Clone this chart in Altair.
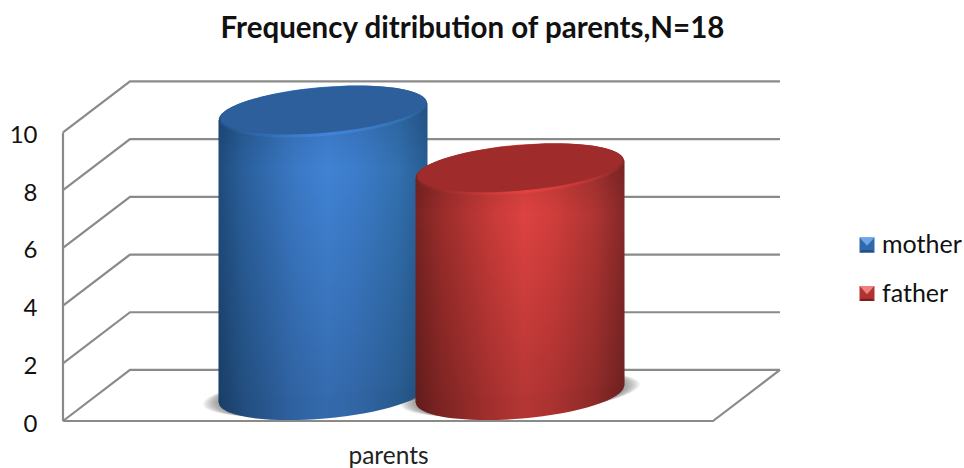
import math
import altair as alt
import pandas as pd

# Chart values
series = ["mother", "father"]
counts = [10, 8]
category = "parents"
y_ticks = [0, 2, 4, 6, 8, 10]

# Projection of the box: one x unit is one pixel, y is in count units
DEPTH_X = 67
DEPTH_Y = 1.77
FRONT_W = 650
Y_MAX = 11.75
TOP_LIFT = 0.73
BASE_LEVEL = 0.93
CENTRES = {"mother": 260, "father": 457}
ELL_A = 104.5
ELL_RATIO = 0.234
TILT = math.radians(-4.9)
TIP_RISE = 0.295  # height of the ellipse's side tips above or below its centre, in y units

PALETTE = {
    "mother": dict(
        side=["#1f4b7c", "#2a5f9b", "#3a78c4", "#4082d4", "#3c7cca", "#3270b0", "#275c92"],
        face="#2c5f9b", light="#6ea6ea", mid="#2f69aa", dark="#1f4e82",
    ),
    "father": dict(
        side=["#762322", "#982c2a", "#c63a38", "#dc4240", "#d03d3b", "#ad3432", "#842827"],
        face="#9f2c2a", light="#ee8080", mid="#b03331", dark="#7a2120",
    ),
}
STOPS = [0, 0.12, 0.36, 0.52, 0.66, 0.86, 1]


def ellipse_path(ax=1.0, ratio=ELL_RATIO, cx=0.0, cy=0.0, tilt=TILT):
    """Rotated ellipse as four cubic segments, in a symbol's unit box."""
    k = 0.5522847
    pts = [(ax, 0), (ax, k * ratio), (k * ax, ratio), (0, ratio), (-k * ax, ratio),
           (-ax, k * ratio), (-ax, 0), (-ax, -k * ratio), (-k * ax, -ratio), (0, -ratio),
           (k * ax, -ratio), (ax, -k * ratio), (ax, 0)]
    c, s = math.cos(tilt), math.sin(tilt)
    out = [(cx + x * c - y * s, cy + x * s + y * c) for x, y in pts]
    d = "M{:.4f},{:.4f}".format(*out[0])
    for i in range(1, 13, 3):
        d += "C" + " ".join("{:.4f},{:.4f}".format(*p) for p in out[i:i + 3])
    return d + "Z"


def shade(color, factor):
    r, g, b = (int(color[i:i + 2], 16) for i in (1, 3, 5))
    return "#{:02x}{:02x}{:02x}".format(*(min(255, int(v * factor)) for v in (r, g, b)))


def side_gradient(colors, factor=1.0):
    return alt.Gradient(
        gradient="linear", x1=0, x2=1, y1=0, y2=0,
        stops=[alt.GradientStop(offset=o, color=shade(c, factor)) for o, c in zip(STOPS, colors)],
    )


x_scale = alt.Scale(domain=[0, 717], nice=False, zero=False, padding=0)
y_scale = alt.Scale(domain=[0, Y_MAX], nice=False, zero=False)
x_axis = alt.Axis(values=[FRONT_W / 2], labelExpr=f"'{category}'", ticks=False, domain=False,
                  grid=False, labelFontSize=24.5, labelFont="Lato", labelColor="#222222",
                  labelPadding=23, title=None)
y_axis = alt.Axis(values=y_ticks, ticks=False, domain=False, grid=False, labelFontSize=24,
                  labelFont="Lato", labelColor="#111111", labelPadding=26, labelOffset=3, title=None)
X = alt.X("x:Q", scale=x_scale, axis=x_axis)


def Y(field):
    return alt.Y(f"{field}:Q", scale=y_scale, axis=y_axis)


LINE = dict(color="#8a8a8a", strokeWidth=2.2, strokeJoin="miter")

# Wall lines, one polyline per tick
wall = []
for v in y_ticks:
    wall += [
        dict(tick=v, step=0, x=0, y=v),
        dict(tick=v, step=1, x=DEPTH_X, y=v + DEPTH_Y),
        dict(tick=v, step=2, x=DEPTH_X + FRONT_W, y=v + DEPTH_Y),
    ]
walls = alt.Chart(pd.DataFrame(wall)).mark_line(**LINE).encode(
    x=X, y=Y("y"), detail="tick:N", order="step:O"
)
floor_front = alt.Chart(pd.DataFrame(
    [dict(x=0, y=0, step=0), dict(x=FRONT_W, y=0, step=1), dict(x=FRONT_W + DEPTH_X, y=DEPTH_Y, step=2)]
)).mark_line(**LINE).encode(x=X, y=Y("y"), order="step:O")
left_edge = alt.Chart(pd.DataFrame(dict(x=[0, 0], y=[0, max(y_ticks)]))).mark_line(**LINE).encode(
    x=X, y=Y("y")
)

df = pd.DataFrame(dict(
    series=series,
    x=[CENTRES[s] for s in series],
    top=[c + TOP_LIFT for c in counts],
    base=[BASE_LEVEL] * len(series),
))

SIZE = (2 * ELL_A) ** 2


def disc(frame, field, path, fill, size=SIZE, opacity=1.0):
    return alt.Chart(frame).mark_point(
        shape=path, size=size, filled=True, fill=fill, opacity=opacity, strokeWidth=0
    ).encode(x=X, y=Y(field))


def body_frame(row):
    # The wall of a cylinder, with its upper and lower edges following the disc tilt
    return pd.DataFrame([
        dict(x=row.x - ELL_A, top=row.top - TIP_RISE, base=row.base - TIP_RISE),
        dict(x=row.x + ELL_A, top=row.top + TIP_RISE, base=row.base + TIP_RISE),
    ])


layers = [walls, floor_front, left_edge]

# Soft ground shadows, built up from stacked translucent discs
for i in range(9):
    grow = 1.15 - i * 0.017
    shadow_path = ellipse_path(ax=grow, ratio=ELL_RATIO * 0.96 / grow)
    layers.append(disc(df, "base", shadow_path, "#5a5a5a", opacity=0.085))

# Cylinders
rim_path = ellipse_path()
face_path = ellipse_path(ax=0.985, ratio=ELL_RATIO * 0.93, cy=-0.012)
for s in series:
    one = df[df.series == s]
    row = one.iloc[0]
    pal = PALETTE[s]
    body = body_frame(row)
    layers.append(disc(one, "base", rim_path, side_gradient(pal["side"], 0.82)))
    layers.append(alt.Chart(body).mark_area(fill=side_gradient(pal["side"]), opacity=1).encode(
        x=X, y=Y("top"), y2="base:Q"
    ))
    layers.append(alt.Chart(body).mark_area(opacity=1, fill=alt.Gradient(
        gradient="linear", x1=0, x2=0, y1=0, y2=1,
        stops=[
            alt.GradientStop(offset=0, color="rgba(0,0,0,0.12)"),
            alt.GradientStop(offset=0.22, color="rgba(0,0,0,0)"),
            alt.GradientStop(offset=1, color="rgba(0,0,0,0.18)"),
        ],
    )).encode(x=X, y=Y("top"), y2="base:Q"))
    layers.append(disc(one, "top", rim_path, side_gradient(pal["side"], 1.03)))
    layers.append(disc(one, "top", face_path, pal["face"]))

# Legend: bevelled swatches with their series names
PLOT_LEFT, PLOT_TOP = 63, 82
KEY_X = 867
for s, key_y in zip(series, [245, 293.5]):
    pal = PALETTE[s]
    pos = dict(x=alt.value(KEY_X - PLOT_LEFT), y=alt.value(key_y - PLOT_TOP))
    key = dict(size=225, filled=True, opacity=1, strokeWidth=0)
    layers.append(alt.Chart().mark_point(shape="square", fill=pal["mid"], **key).encode(**pos))
    layers.append(alt.Chart().mark_point(shape="M-1,1L1,1L0.75,0.7L-0.75,0.7Z", fill=pal["dark"], **key).encode(**pos))
    layers.append(alt.Chart().mark_point(shape="M-1,-1L1,-1L0,0.1Z", fill=pal["light"], **key).encode(**pos))
    layers.append(alt.Chart().mark_text(
        text=s, align="left", baseline="middle", font="Lato", fontSize=25, color="#111111"
    ).encode(x=alt.value(882 - PLOT_LEFT), y=alt.value(key_y - PLOT_TOP)))

chart = alt.layer(*layers).properties(
    width=717,
    height=339,
    padding=dict(left=63, top=82, right=184, bottom=47),
    autosize=alt.AutoSizeParams(type="none"),
    title=alt.TitleParams(
        "Frequency ditribution of parents,N=18", anchor="middle", dx=51, offset=33,
        font="Lato", fontSize=29.5, fontWeight="bold", color="#111111",
    ),
).configure_view(stroke=None)

chart.save("out.html", embed_options={"renderer": "svg", "actions": False})
